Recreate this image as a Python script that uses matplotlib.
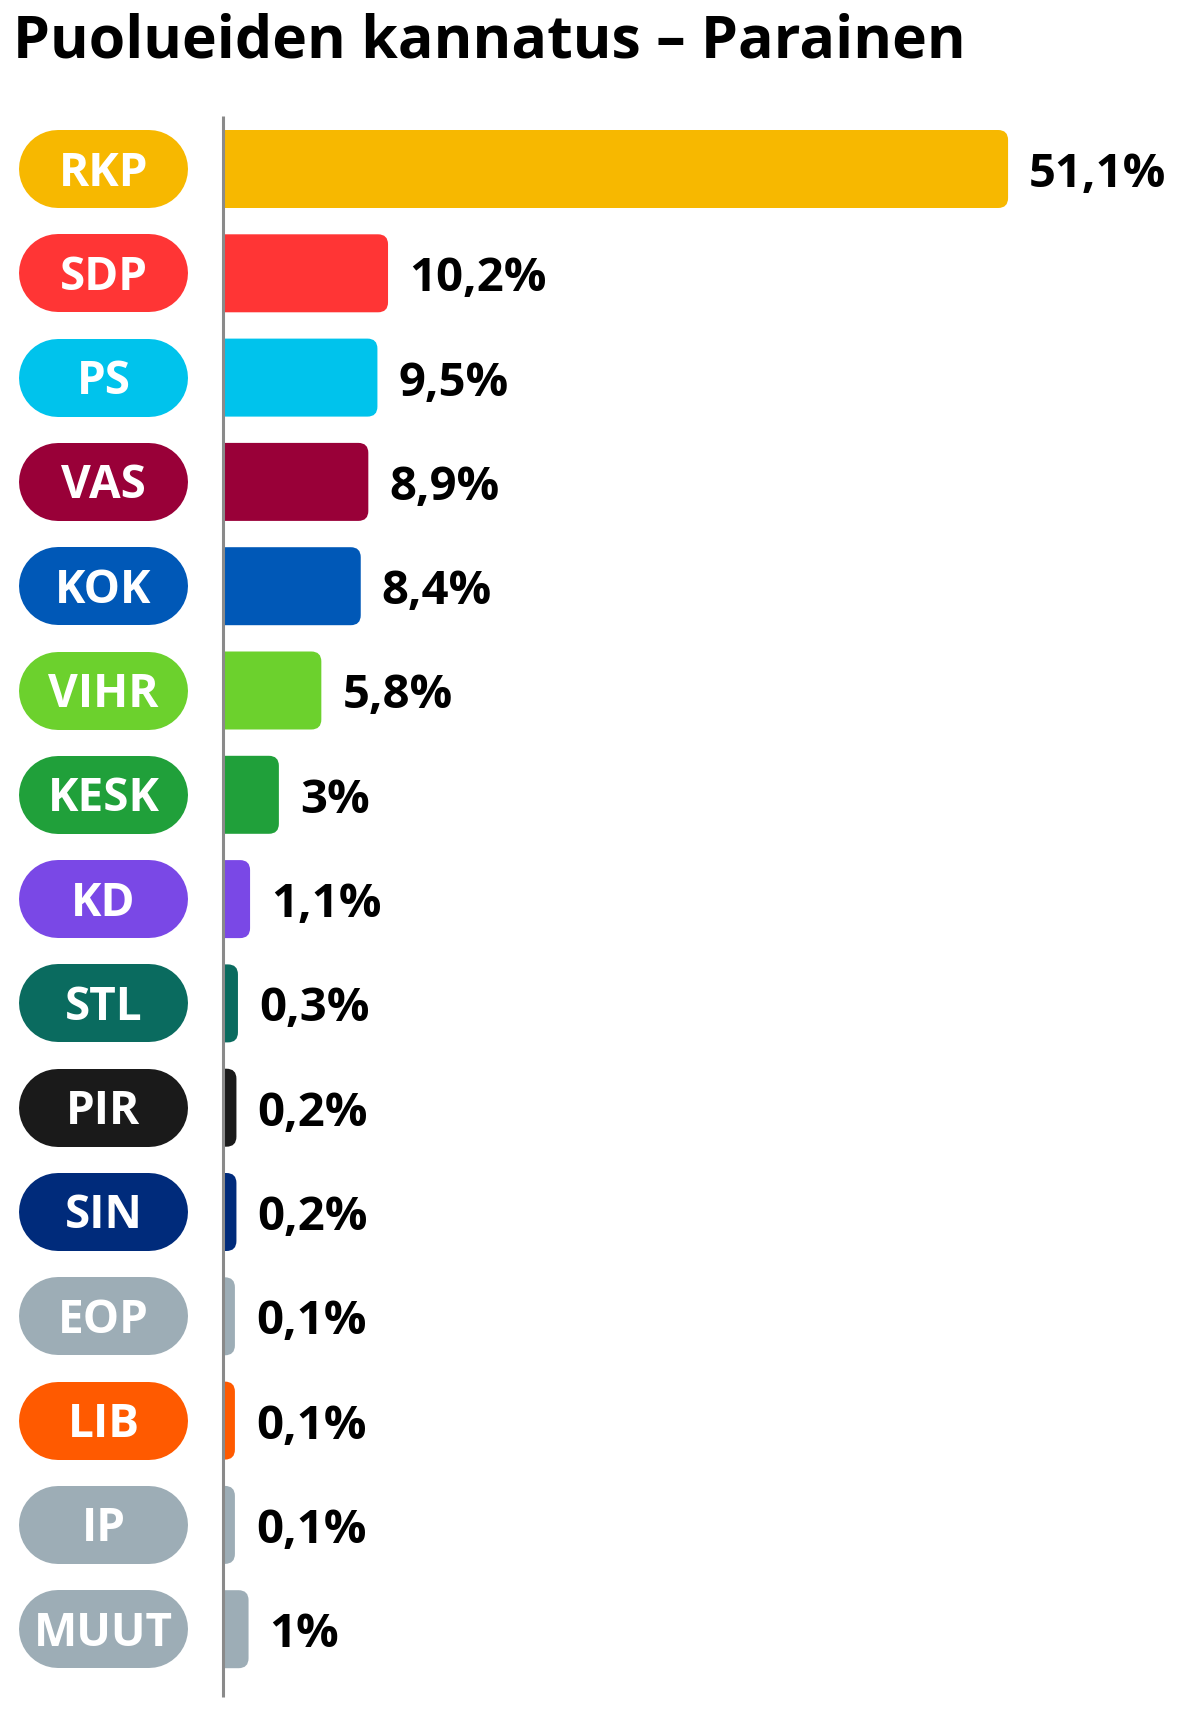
import matplotlib
matplotlib.use("Agg")
import matplotlib.pyplot as plt
from matplotlib.patches import FancyBboxPatch, Rectangle

plt.rcParams['font.family'] = ['Open Sans', 'DejaVu Sans']

parties = ["RKP", "SDP", "PS", "VAS", "KOK", "VIHR", "KESK", "KD",
           "STL", "PIR", "SIN", "EOP", "LIB", "IP", "MUUT"]
values = [51.1, 10.2, 9.5, 8.9, 8.4, 5.8, 3.0, 1.1, 0.3, 0.2, 0.2, 0.1, 0.1, 0.1, 1.0]
labels = ["51,1%", "10,2%", "9,5%", "8,9%", "8,4%", "5,8%", "3%", "1,1%",
          "0,3%", "0,2%", "0,2%", "0,1%", "0,1%", "0,1%", "1%"]
colors = ["#F7B800", "#FF3535", "#00C3EC", "#990038", "#0058B7", "#6CD12D",
          "#20A03A", "#7A48E6", "#0A6B5F", "#1A1A1A", "#002B7B", "#9DADB6",
          "#FF5A00", "#9DADB6", "#9DADB6"]

W, H = 1199, 1721
fig = plt.figure(figsize=(W / 100, H / 100), dpi=100)
ax = fig.add_axes([0, 0, 1, 1])

# pixel scale: x 15.16 px per %, rows 104.3 px apart
xpx = 15.16
ypx = 104.3
ax.set_xlim(-233.4 / xpx, (W - 233.4) / xpx)
ax.set_ylim((H - 169) / ypx, -169 / ypx)
ax.axis('off')
aspect = xpx / ypx

bar_h = 78 / ypx
base = -10 / xpx
r = 10 / xpx
pill_l = (19 - 233.4) / xpx
pill_r = (188 - 233.4) / xpx
pill_rad = 39 / xpx

for i, (p, v, lab, c) in enumerate(zip(parties, values, labels, colors)):
    # rounded bar, left rounding hidden behind white strip
    ax.add_patch(FancyBboxPatch((base - 2 * r, i - bar_h / 2), v - base + 2 * r, bar_h,
                                boxstyle=f"round,pad=0,rounding_size={r}",
                                mutation_aspect=aspect, fc=c, ec='none', zorder=2))
    # party pill: thick line with round caps
    ax.plot([pill_l + pill_rad, pill_r - pill_rad], [i, i], color=c,
            lw=78 * 0.72, solid_capstyle='round', zorder=2)
    ax.text((pill_l + pill_r) / 2, i + 16.5 / ypx, p, color='white', fontsize=33,
            fontweight='bold', ha='center', va='baseline', zorder=4)
    ax.text(v + 21 / xpx, i + 18 / ypx, lab, color='black', fontsize=34,
            fontweight='bold', ha='left', va='baseline', zorder=4)

ax.add_patch(Rectangle((base - 3 * r, -0.6), 3 * r, len(parties) + 0.2,
                       fc='white', ec='none', zorder=3))
ax.plot([base, base], [(116 - 169) / ypx, (1697 - 169) / ypx],
        color='#8a8a8a', lw=2.2, zorder=5, solid_capstyle='butt')

fig.text(13 / W, 1 - 58 / H, "Puolueiden kannatus \u2013 Parainen", fontsize=42.5,
         fontweight='bold', color='black', ha='left', va='baseline')

fig.savefig("out.png", dpi=100, facecolor='white')
